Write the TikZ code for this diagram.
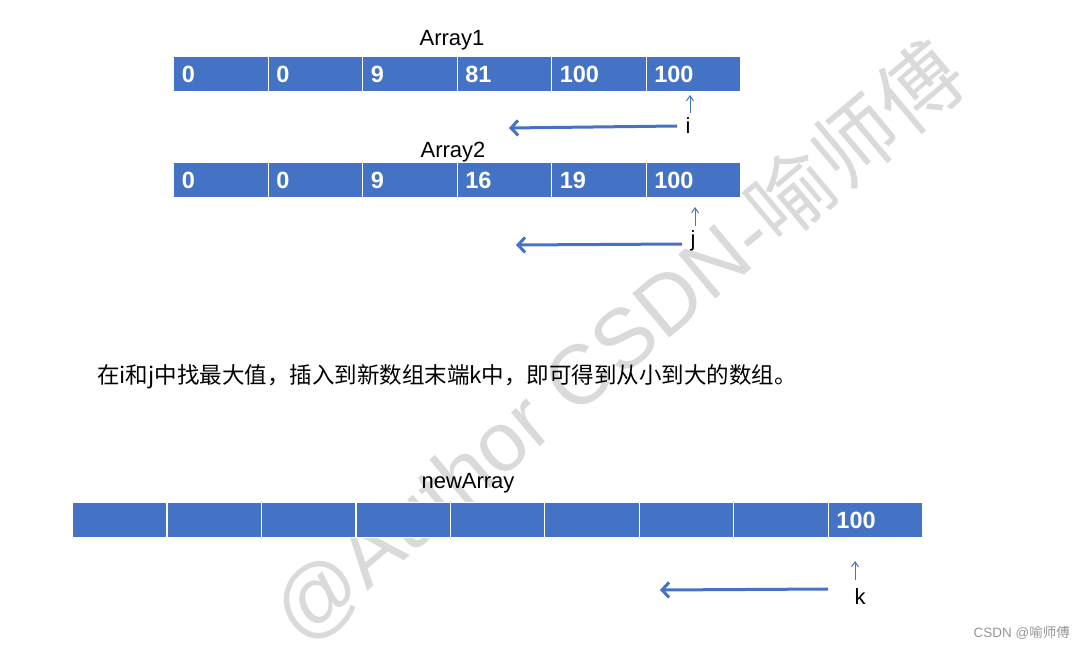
\documentclass[tikz,border=0pt]{standalone}
\usepackage{fontspec}
\setmainfont{Liberation Sans}
\newfontfamily\cjk{Noto Sans CJK SC}
\usetikzlibrary{arrows.meta}
\definecolor{cellblue}{RGB}{68,114,196}
\definecolor{wmgray}{RGB}{218,218,218}
\definecolor{credit}{RGB}{150,150,150}
\begin{document}
\begin{tikzpicture}[x=1pt,y=-1pt,
  cell/.style={draw=white, line width=1.2pt, fill=cellblue, minimum width=94.5pt,
    minimum height=35pt, inner xsep=8pt, inner ysep=0pt, text width=78pt,
    align=left, text=white, font=\fontsize{23.5}{26}\selectfont\bfseries, anchor=north west},
  title/.style={font=\fontsize{22}{26}\selectfont, inner sep=0pt},
  idx/.style={font=\fontsize{22}{26}\selectfont, inner sep=0pt},
  ptr/.style={draw=cellblue, line width=1pt, -{Straight Barb[length=5pt,width=7pt]}},
  move/.style={draw=cellblue, line width=3pt, -{Straight Barb[length=7pt,width=15pt]}},
]
\useasboundingbox (0,0) rectangle (1086,650);
% watermark
\node[rotate=40, text=wmgray, font=\fontsize{84}{90}\selectfont, inner sep=0pt] (wmk) at (618,343) {@Author CSDN-{\cjk 喻师傅}};

% Array1
\node[title] (t1) at (452,40) {Array1};
\foreach \v [count=\n from 0] in {0,0,9,81,100,100}
  \node[cell] (a\n) at (173+94.5*\n,56) {\v};
% Array2
\node[title] (t2) at (453,152) {Array2};
\foreach \v [count=\n from 0] in {0,0,9,16,19,100}
  \node[cell] (b\n) at (173+94.5*\n,162) {\v};
% newArray
\node[title] (t3) at (468,483) {newArray};
\foreach \v [count=\n from 0] in {{},{},{},{},{},{},{},{},100}
  \node[cell] (c\n) at (72+94.45*\n,502) {\v};

% pointer i
\node[idx] (pi) at (688,126) {i};
\coordinate (pia) at (690,113);
\coordinate (pib) at (690,95);
\draw[ptr] (pia) -- (pib);
\coordinate (mia) at (677,126);
\coordinate (mib) at (509,128);
\draw[move] (mia) -- (mib);

% pointer j
\node[idx] (pj) at (693,241) {j};
\coordinate (pja) at (695,226);
\coordinate (pjb) at (695,207);
\draw[ptr] (pja) -- (pjb);
\coordinate (mja) at (682,244);
\coordinate (mjb) at (516,245);
\draw[move] (mja) -- (mjb);

% pointer k
\node[idx] (pk) at (860,597) {k};
\coordinate (pka) at (855,580);
\coordinate (pkb) at (855,561);
\draw[ptr] (pka) -- (pkb);
\coordinate (mka) at (828,589);
\coordinate (mkb) at (660,590);
\draw[move] (mka) -- (mkb);

% description
\node[anchor=west, inner sep=0pt, font=\cjk\fontsize{22.5}{26}\selectfont] (desc) at (97,377)
  {在i和j中找最大值，插入到新数组末端k中，即可得到从小到大的数组。};

% credit
\node[anchor=east, inner sep=0pt, text=credit, font=\fontsize{13.5}{16}\selectfont] (cred) at (1070,633)
  {CSDN @{\cjk 喻师傅}};
\end{tikzpicture}
\end{document}
